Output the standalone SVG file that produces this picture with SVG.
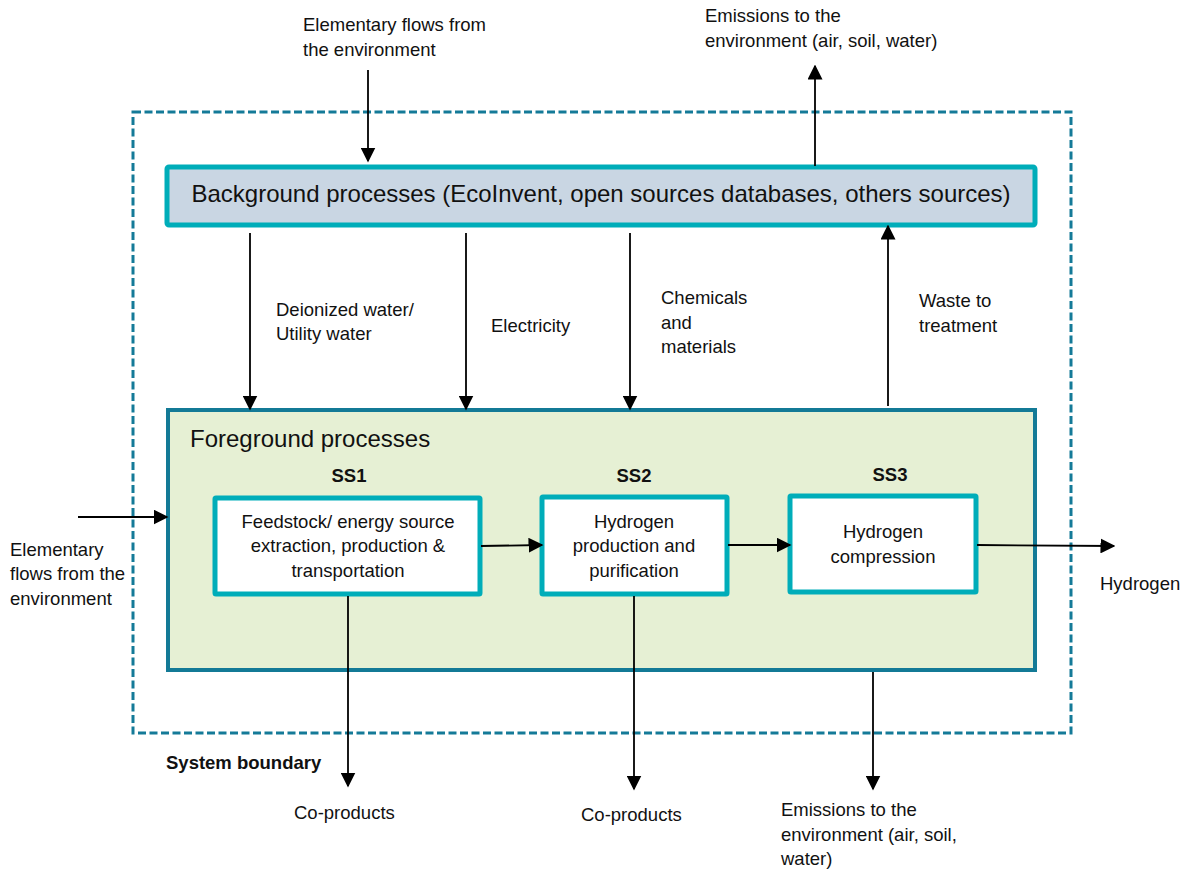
<svg xmlns="http://www.w3.org/2000/svg" width="1185" height="871" viewBox="0 0 1185 871">
  <defs>
    <marker id="arrowL" viewBox="0 0 10 10" refX="9" refY="5" markerWidth="15" markerHeight="15" markerUnits="userSpaceOnUse" orient="auto">
      <path d="M0,0 L10,5 L0,10 z" fill="#000"/>
    </marker>
  </defs>
  <style>
    text { font-family: "Liberation Sans", Arial, sans-serif; fill: #111; }
    .lbl { font-size: 18.5px; }
    .bold { font-size: 18.5px; font-weight: bold; }
    .flow { stroke: #000; stroke-width: 1.8; fill: none; marker-end: url(#arrowL); }
    .sub { fill: #fff; stroke: #00adb9; stroke-width: 5; }
  </style>
  <rect width="1185" height="871" fill="#fff"/>

  <!-- system boundary -->
  <g id="boundary">
    <rect x="133" y="112" width="938" height="621" fill="none" stroke="#147a98" stroke-width="3" stroke-dasharray="8,3.5"/>
    <text class="bold" x="166" y="769">System boundary</text>
  </g>

  <!-- background processes -->
  <g id="background">
    <rect x="167" y="167" width="868" height="58" rx="2" fill="#c9d6e3" stroke="#00adb9" stroke-width="5"/>
    <text x="601" y="202" font-size="24" text-anchor="middle">Background processes (EcoInvent, open sources databases, others sources)</text>
  </g>

  <!-- foreground processes -->
  <g id="foreground">
    <rect x="168" y="410" width="867" height="260" fill="#e6f0d4" stroke="#137a96" stroke-width="4"/>
    <text x="190" y="447" font-size="24">Foreground processes</text>
    <text class="bold" x="349" y="482" text-anchor="middle">SS1</text>
    <text class="bold" x="634" y="482" text-anchor="middle">SS2</text>
    <text class="bold" x="890" y="481" text-anchor="middle">SS3</text>
  </g>

  <g id="ss1">
    <rect class="sub" x="215" y="498" width="265" height="96" rx="1"/>
    <text class="lbl" x="348" y="528" text-anchor="middle">Feedstock/ energy source</text>
    <text class="lbl" x="348" y="552" text-anchor="middle">extraction, production &amp;</text>
    <text class="lbl" x="348" y="577" text-anchor="middle">transportation</text>
  </g>
  <g id="ss2">
    <rect class="sub" x="542" y="497" width="185" height="97" rx="1"/>
    <text class="lbl" x="634" y="528" text-anchor="middle">Hydrogen</text>
    <text class="lbl" x="634" y="552" text-anchor="middle">production and</text>
    <text class="lbl" x="634" y="577" text-anchor="middle">purification</text>
  </g>
  <g id="ss3">
    <rect class="sub" x="790" y="496" width="186" height="96" rx="1"/>
    <text class="lbl" x="883" y="538" text-anchor="middle">Hydrogen</text>
    <text class="lbl" x="883" y="563" text-anchor="middle">compression</text>
  </g>

  <!-- connectors -->
  <g id="connectors">
    <line class="flow" x1="368" y1="70" x2="368" y2="161"/>
    <line class="flow" x1="815" y1="166" x2="815" y2="66"/>
    <line class="flow" x1="250" y1="233" x2="250" y2="409"/>
    <line class="flow" x1="466" y1="233" x2="466" y2="409"/>
    <line class="flow" x1="630" y1="233" x2="630" y2="409"/>
    <line class="flow" x1="888" y1="406" x2="888" y2="226"/>
    <line class="flow" x1="78" y1="517" x2="167" y2="517"/>
    <line class="flow" x1="481" y1="546" x2="542" y2="545"/>
    <line class="flow" x1="728" y1="545" x2="790" y2="545"/>
    <line class="flow" x1="977" y1="545" x2="1114" y2="546"/>
    <line class="flow" x1="348" y1="596" x2="348" y2="786"/>
    <line class="flow" x1="634" y1="596" x2="634" y2="789"/>
    <line class="flow" x1="873" y1="672" x2="873" y2="789"/>
  </g>

  <!-- flow labels -->
  <g id="labels">
    <text class="lbl" x="303" y="31">Elementary flows from</text>
    <text class="lbl" x="303" y="56">the environment</text>
    <text class="lbl" x="705" y="22">Emissions to the</text>
    <text class="lbl" x="705" y="47">environment (air, soil, water)</text>
    <text class="lbl" x="276" y="316">Deionized water/</text>
    <text class="lbl" x="276" y="340">Utility water</text>
    <text class="lbl" x="491" y="332">Electricity</text>
    <text class="lbl" x="661" y="304">Chemicals</text>
    <text class="lbl" x="661" y="329">and</text>
    <text class="lbl" x="661" y="353">materials</text>
    <text class="lbl" x="919" y="307">Waste to</text>
    <text class="lbl" x="919" y="332">treatment</text>
    <text class="lbl" x="10" y="556">Elementary</text>
    <text class="lbl" x="10" y="580">flows from the</text>
    <text class="lbl" x="10" y="605">environment</text>
    <text class="lbl" x="1100" y="590">Hydrogen</text>
    <text class="lbl" x="294" y="819">Co-products</text>
    <text class="lbl" x="581" y="821">Co-products</text>
    <text class="lbl" x="781" y="816">Emissions to the</text>
    <text class="lbl" x="781" y="841">environment (air, soil,</text>
    <text class="lbl" x="781" y="865">water)</text>
  </g>
</svg>
